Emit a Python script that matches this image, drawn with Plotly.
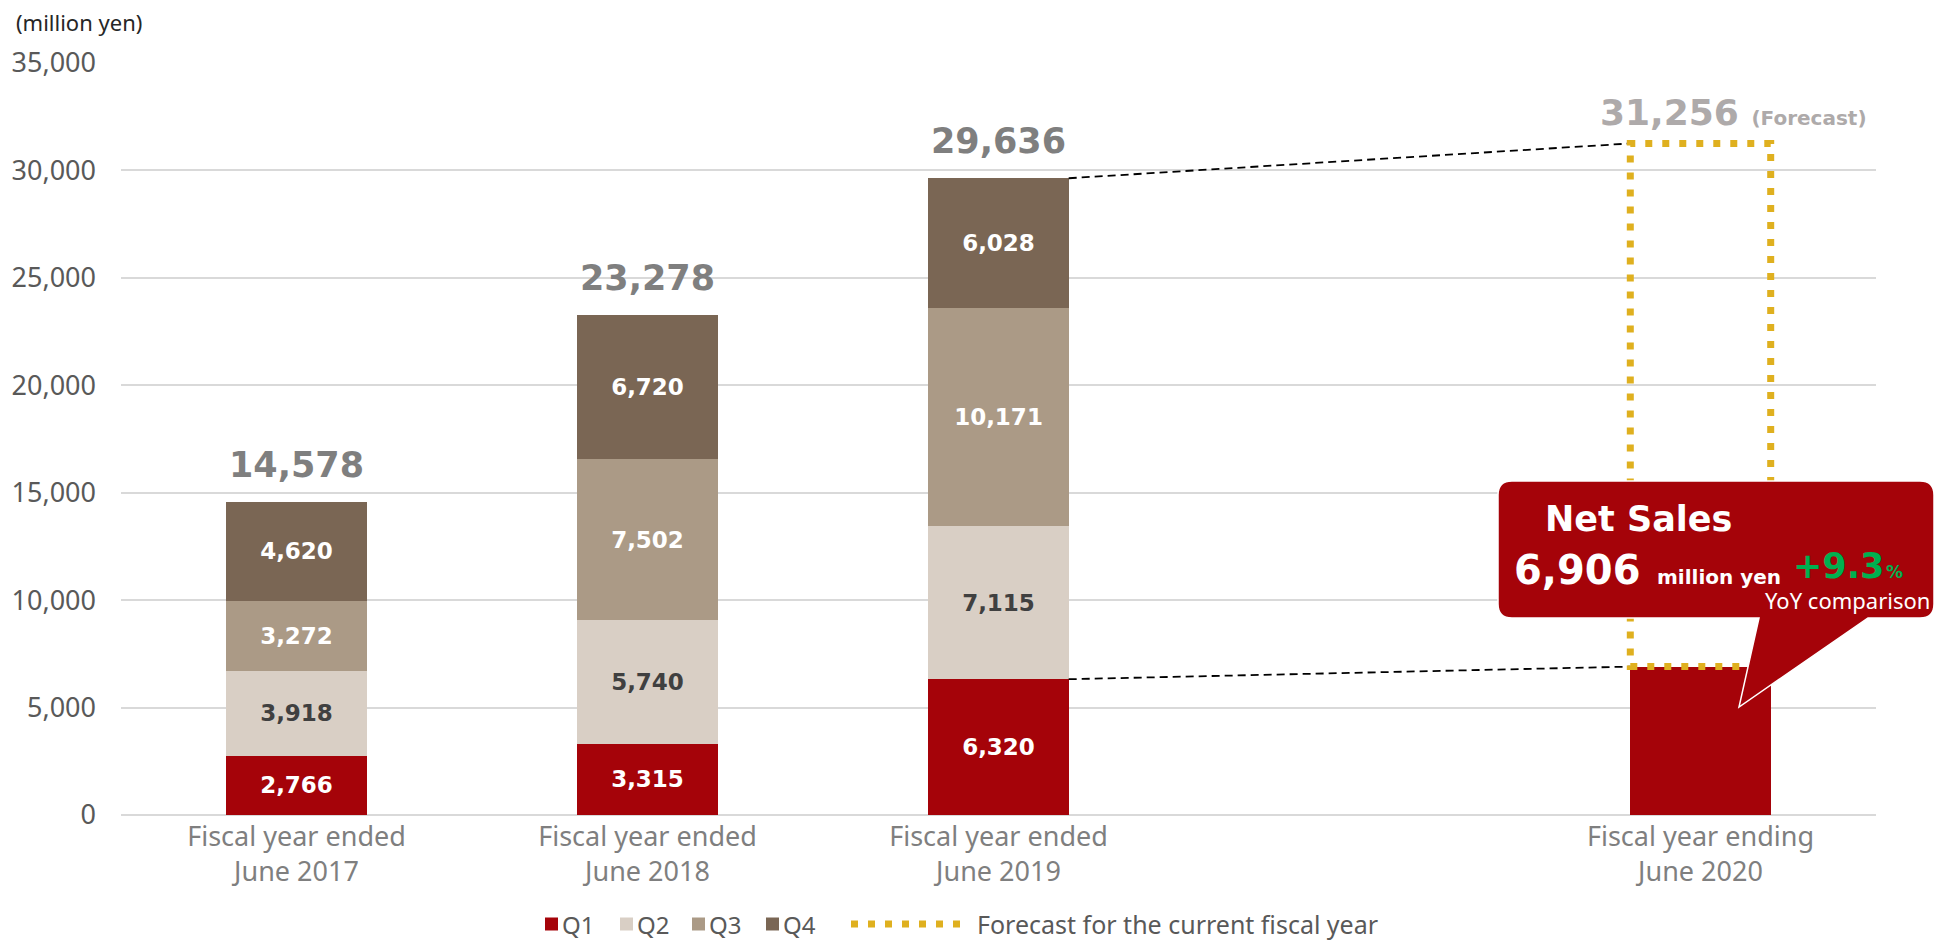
import plotly.graph_objects as go

# ---- data -------------------------------------------------------------
fiscal_years = [
    "Fiscal year ended<br>June 2017",
    "Fiscal year ended<br>June 2018",
    "Fiscal year ended<br>June 2019",
    "Fiscal year ending<br>June 2020",
]
x_slots = [0, 1, 2, 4]          # one empty slot before the current year
q1_sales = [2766, 3315, 6320, 6906]
q2_sales = [3918, 5740, 7115]
q3_sales = [3272, 7502, 10171]
q4_sales = [4620, 6720, 6028]
annual_totals = [14578, 23278, 29636]
forecast_total = 31256
yoy_change = 9.3
y_ticks = [0, 5000, 10000, 15000, 20000, 25000, 30000, 35000]

# ---- styling ----------------------------------------------------------
Q_COLORS = ["#A50309", "#D9CFC5", "#AB9A86", "#7A6654"]
Q_TEXT = ["white", "#404040", "white", "white"]
GOLD = "#DFB01F"
GRID = "#D9D9D9"
REG_FONT = "Noto Sans"
BOLD_FONT = "DejaVu Sans"

W, H = 1935, 941
M_L, M_R, M_T, M_B = 121, 59, 63, 126
PLOT_W = W - M_L - M_R
PLOT_H = H - M_T - M_B
BAR_W = 0.4


def fx(px):
    """pixel x -> paper x"""
    return (px - M_L) / PLOT_W


def fy(py):
    """pixel y -> paper y"""
    return (H - M_B - py) / PLOT_H


fig = go.Figure()

quarters = [q1_sales, q2_sales, q3_sales, q4_sales]
for i, vals in enumerate(quarters):
    xs = x_slots[: len(vals)]
    labels = [f"{v:,}" for v in vals]
    if i == 0:
        labels[-1] = ""  # current-year Q1 is described in the callout
    fig.add_bar(
        x=xs,
        y=vals,
        width=BAR_W,
        name=f"Q{i + 1}",
        marker=dict(color=Q_COLORS[i], line=dict(width=0)),
        text=labels,
        textposition="inside",
        insidetextanchor="middle",
        textangle=0,
        constraintext="none",
        textfont=dict(family=BOLD_FONT, size=23, color=Q_TEXT[i], weight="bold"),
        hoverinfo="skip",
        showlegend=False,
    )

# yearly totals above the stacks
for x, t in zip(x_slots, annual_totals):
    fig.add_annotation(
        x=x, y=t, text=f"{t:,}", showarrow=False, yanchor="middle", yshift=37,
        font=dict(family=BOLD_FONT, size=35, color="#7F7F7F", weight="bold"),
    )

# forecast label
fig.add_annotation(
    x=x_slots[3], y=forecast_total,
    text=f"{forecast_total:,} <span style='font-size:20px'>(Forecast)</span>",
    showarrow=False, yanchor="middle", xanchor="center", yshift=31, xshift=33,
    font=dict(family=BOLD_FONT, size=36, color="#AEAAAA", weight="bold"),
)

# dashed connectors from FY2019 to the current year
fig.add_shape(type="line", xref="x", yref="y",
              x0=x_slots[2] + BAR_W / 2, y0=annual_totals[2],
              x1=x_slots[3] - BAR_W / 2, y1=forecast_total,
              line=dict(color="black", width=1.8, dash="8px,5px"))
fig.add_shape(type="line", xref="x", yref="y",
              x0=x_slots[2] + BAR_W / 2, y0=q1_sales[2],
              x1=x_slots[3] - BAR_W / 2, y1=q1_sales[3],
              line=dict(color="black", width=1.8, dash="8px,5px"))

# forecast outline
fig.add_shape(type="rect", xref="x", yref="y",
              x0=x_slots[3] - BAR_W / 2, x1=x_slots[3] + BAR_W / 2,
              y0=q1_sales[3], y1=forecast_total,
              line=dict(color=GOLD, width=7, dash="7px,10px"))

# speech-bubble callout
L, T, R, B, r = 1498, 481, 1934, 618, 14
TIP = (1739, 707)
PR, PL = 1868, 1759


def P(x, y):
    return f"{fx(x):.5f},{fy(y):.5f}"


bubble = (
    f"M{P(L + r, T)} L{P(R - r, T)} Q{P(R, T)} {P(R, T + r)} "
    f"L{P(R, B - r)} Q{P(R, B)} {P(R - r, B)} "
    f"L{P(PR, B)} L{P(*TIP)} L{P(PL, B)} "
    f"L{P(L + r, B)} Q{P(L, B)} {P(L, B - r)} "
    f"L{P(L, T + r)} Q{P(L, T)} {P(L + r, T)} Z"
)
fig.add_shape(type="path", xref="paper", yref="paper", path=bubble,
              fillcolor="#A50309", line=dict(color="white", width=1.5), layer="above")

callout_texts = [
    ("Net Sales", 1638, 519, "center", BOLD_FONT, 35, "white", "bold"),
    (f"{q1_sales[3]:,}", 1512, 570, "left", BOLD_FONT, 40, "white", "bold"),
    ("million yen", 1655, 577, "left", BOLD_FONT, 20, "white", "bold"),
    (f"+{yoy_change}", 1791, 566, "left", BOLD_FONT, 35, "#00B050", "bold"),
    ("%", 1884, 572, "left", BOLD_FONT, 17, "#00B050", "bold"),
    ("YoY comparison", 1932, 600, "right", REG_FONT, 22, "white", "normal"),
]
for txt, x, y, anchor, fam, size, col, wt in callout_texts:
    fig.add_annotation(
        xref="paper", yref="paper", x=fx(x), y=fy(y), text=txt, showarrow=False,
        xanchor=anchor, yanchor="middle",
        font=dict(family=fam, size=size, color=col, weight=wt),
    )

# unit label
fig.add_annotation(xref="paper", yref="paper", x=fx(14), y=fy(22), text="(million yen)",
                   showarrow=False, xanchor="left", yanchor="middle",
                   font=dict(family=REG_FONT, size=22, color="#262626"))

# legend row
LEG_Y = 924
legend_items = [("Q1", 545, Q_COLORS[0]), ("Q2", 620, Q_COLORS[1]),
                ("Q3", 692, Q_COLORS[2]), ("Q4", 766, Q_COLORS[3])]
for name, x, col in legend_items:
    fig.add_shape(type="rect", xref="paper", yref="paper",
                  x0=fx(x), x1=fx(x + 13), y0=fy(LEG_Y + 6.5), y1=fy(LEG_Y - 6.5),
                  fillcolor=col, line=dict(width=0))
    fig.add_annotation(xref="paper", yref="paper", x=fx(x + 16), y=fy(LEG_Y),
                       text=name, showarrow=False, xanchor="left", yanchor="middle",
                       borderpad=0,
                       font=dict(family=REG_FONT, size=24, color="#595959"))
fig.add_shape(type="line", xref="paper", yref="paper",
              x0=fx(851), x1=fx(963), y0=fy(LEG_Y), y1=fy(LEG_Y),
              line=dict(color=GOLD, width=7, dash="7px,10px"))
fig.add_annotation(xref="paper", yref="paper", x=fx(976), y=fy(LEG_Y),
                   text="Forecast for the current fiscal year", showarrow=False,
                   xanchor="left", yanchor="middle", borderpad=0,
                   font=dict(family=REG_FONT, size=25, color="#595959"))

fig.update_layout(
    width=W, height=H,
    margin=dict(l=M_L, r=M_R, t=M_T, b=M_B),
    barmode="stack",
    paper_bgcolor="white", plot_bgcolor="white",
    font=dict(family=REG_FONT),
    showlegend=False,
)
fig.update_xaxes(
    range=[-0.5, 4.5], tickmode="array", tickvals=x_slots, ticktext=fiscal_years,
    showgrid=False, zeroline=False, showline=False, ticks="",
    ticklabelstandoff=3,
    tickfont=dict(family=REG_FONT, size=27, color="#7F7F7F"),
)
fig.update_yaxes(
    range=[0, 35000], tickmode="array", tickvals=y_ticks, tickformat=",",
    showgrid=True, gridcolor=GRID, gridwidth=2,
    zeroline=True, zerolinecolor=GRID, zerolinewidth=2,
    showline=False, ticks="", ticklabelstandoff=24,
    tickfont=dict(family=REG_FONT, size=27, color="#595959"),
)

fig.write_html("out.html")
